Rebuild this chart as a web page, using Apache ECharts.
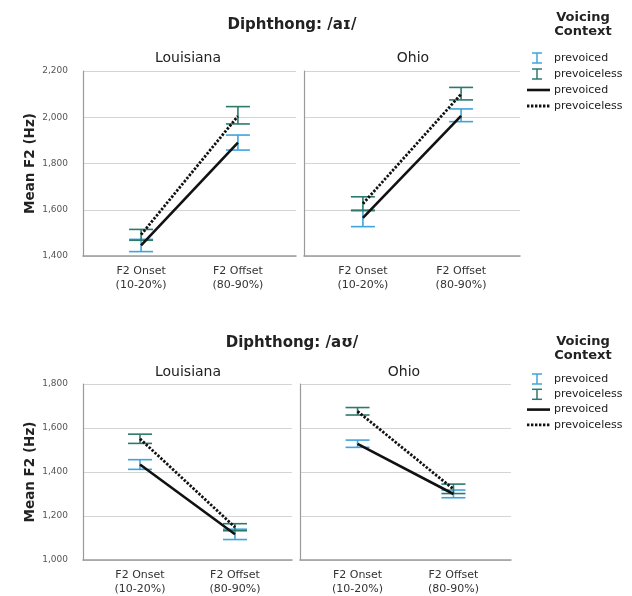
<!DOCTYPE html>
<html>
<head>
<meta charset="utf-8">
<script src="https://cdn.jsdelivr.net/npm/echarts@6/dist/echarts.min.js"></script>
<style>
  html, body { margin: 0; padding: 0; background: #fff; }
  #chart { width: 632px; height: 596px; }
</style>
</head>
<body>
<div id="chart"></div>
<script>
// x categories
const categories = ['F2 Onset\n(10-20%)', 'F2 Offset\n(80-90%)']
const aiRange = [1400, 2200]
const auRange = [1000, 1800]
const tickStep = 200

// /aɪ/ Louisiana
const laAiVoiced = [1446, 1890]
const laAiVoicedLo = [1419, 1858]
const laAiVoicedHi = [1472, 1923]
const laAiVoiceless = [1492, 2005]
const laAiVoicelessLo = [1468, 1971]
const laAiVoicelessHi = [1515, 2046]
// /aɪ/ Ohio
const ohAiVoiced = [1565, 2006]
const ohAiVoicedLo = [1527, 1981]
const ohAiVoicedHi = [1599, 2036]
const ohAiVoiceless = [1626, 2100]
const ohAiVoicelessLo = [1596, 2075]
const ohAiVoicelessHi = [1656, 2129]
// /aʊ/ Louisiana
const laAuVoiced = [1434, 1117]
const laAuVoicedLo = [1412, 1093]
const laAuVoicedHi = [1456, 1140]
const laAuVoiceless = [1551, 1149]
const laAuVoicelessLo = [1530, 1133]
const laAuVoicelessHi = [1572, 1165]
// /aʊ/ Ohio
const ohAuVoiced = [1528, 1300]
const ohAuVoicedLo = [1512, 1283]
const ohAuVoicedHi = [1545, 1318]
const ohAuVoiceless = [1676, 1322]
const ohAuVoicelessLo = [1659, 1302]
const ohAuVoicelessHi = [1693, 1345]

const FONT = 'DejaVu Sans'
const BLUE = '#3fa4dc'
const TEAL = '#2c7a6c'

const panels = [
  { grid: { left: 83, top: 71, width: 213, height: 185 }, range: aiRange, labels: true,
    v: laAiVoiced, vLo: laAiVoicedLo, vHi: laAiVoicedHi, u: laAiVoiceless, uLo: laAiVoicelessLo, uHi: laAiVoicelessHi },
  { grid: { left: 304, top: 71, width: 216, height: 185 }, range: aiRange, labels: false,
    v: ohAiVoiced, vLo: ohAiVoicedLo, vHi: ohAiVoicedHi, u: ohAiVoiceless, uLo: ohAiVoicelessLo, uHi: ohAiVoicelessHi },
  { grid: { left: 83, top: 384, width: 209, height: 180 }, range: auRange, labels: true,
    v: laAuVoiced, vLo: laAuVoicedLo, vHi: laAuVoicedHi, u: laAuVoiceless, uLo: laAuVoicelessLo, uHi: laAuVoicelessHi },
  { grid: { left: 300, top: 384, width: 211, height: 180 }, range: auRange, labels: false,
    v: ohAuVoiced, vLo: ohAuVoicedLo, vHi: ohAuVoicedHi, u: ohAuVoiceless, uLo: ohAuVoicelessLo, uHi: ohAuVoicelessHi },
]

const errorBar = (color) => (params, api) => {
  const x = api.value(0)
  const lo = api.coord([x, api.value(1)])
  const hi = api.coord([x, api.value(2)])
  const hw = 12
  const style = { stroke: color, lineWidth: 1.6 }
  return {
    type: 'group',
    children: [
      { type: 'line', shape: { x1: lo[0], y1: lo[1], x2: hi[0], y2: hi[1] }, style },
      { type: 'line', shape: { x1: lo[0] - hw, y1: lo[1], x2: lo[0] + hw, y2: lo[1] }, style },
      { type: 'line', shape: { x1: hi[0] - hw, y1: hi[1], x2: hi[0] + hw, y2: hi[1] }, style },
    ],
  }
}

const grids = panels.map((p) => p.grid)
const xAxes = panels.map((p, i) => ({
  type: 'value',
  gridIndex: i,
  min: -0.6,
  max: 1.6,
  splitLine: { show: false },
  axisTick: { show: false },
  axisLine: { onZero: false, lineStyle: { color: '#9a9a9a', width: 1.5 } },
  axisLabel: {
    color: '#333',
    fontFamily: FONT,
    fontSize: 11,
    lineHeight: 14,
    margin: 8,
    showMinLabel: false,
    showMaxLabel: false,
    formatter: (v) => (Number.isInteger(v) && categories[v] ? categories[v] : ''),
  },
}))
const yAxes = panels.map((p, i) => ({
  type: 'value',
  gridIndex: i,
  min: p.range[0],
  max: p.range[1],
  interval: tickStep,
  name: p.labels ? 'Mean F2 (Hz)' : '',
  nameLocation: 'middle',
  nameGap: 46,
  nameTextStyle: { fontFamily: FONT, fontWeight: 'bold', fontSize: 13.5, color: '#222' },
  axisLine: { show: true, onZero: false, lineStyle: { color: '#9a9a9a', width: 1.2 } },
  axisTick: { show: false },
  splitLine: { lineStyle: { color: '#d4d4d4', width: 1 } },
  axisLabel: {
    show: p.labels,
    color: '#555',
    fontFamily: FONT,
    fontSize: 9,
    margin: 15,
    formatter: (v) => v.toLocaleString('en-US'),
  },
}))

const series = []
panels.forEach((p, i) => {
  const bars = (lo, hi) => lo.map((l, k) => [k, l, hi[k]])
  const pts = (arr) => arr.map((m, k) => [k, m])
  series.push({
    type: 'custom', name: 'prevoiced bars', xAxisIndex: i, yAxisIndex: i, z: 2,
    renderItem: errorBar(BLUE), encode: { x: 0, y: [1, 2] }, data: bars(p.vLo, p.vHi),
  })
  series.push({
    type: 'custom', name: 'prevoiceless bars', xAxisIndex: i, yAxisIndex: i, z: 2,
    renderItem: errorBar(TEAL), encode: { x: 0, y: [1, 2] }, data: bars(p.uLo, p.uHi),
  })
  series.push({
    type: 'line', name: 'prevoiced', xAxisIndex: i, yAxisIndex: i, z: 3,
    symbol: 'none', lineStyle: { color: '#111', width: 2.6 }, data: pts(p.v),
  })
  series.push({
    type: 'line', name: 'prevoiceless', xAxisIndex: i, yAxisIndex: i, z: 3,
    symbol: 'none', lineStyle: { color: '#111', width: 2.8, type: [2.4, 1.6] }, data: pts(p.u),
  })
})

const text = (x, y, str, size, bold, align) => ({
  type: 'text', x, y,
  style: {
    text: str, fontFamily: FONT, fontSize: size, fontWeight: bold ? 'bold' : 'normal',
    fill: '#222', align: align || 'center', verticalAlign: 'middle',
  },
})

const legendBlock = (yTitle, yItems, gap) => {
  const ix = 537
  const tx = 554
  const ibar = (y, color) => ({
    type: 'group',
    children: [
      { type: 'line', shape: { x1: ix, y1: y - 5, x2: ix, y2: y + 5 }, style: { stroke: color, lineWidth: 1.5 } },
      { type: 'line', shape: { x1: ix - 5, y1: y - 5, x2: ix + 5, y2: y - 5 }, style: { stroke: color, lineWidth: 1.5 } },
      { type: 'line', shape: { x1: ix - 5, y1: y + 5, x2: ix + 5, y2: y + 5 }, style: { stroke: color, lineWidth: 1.5 } },
    ],
  })
  const y = (k) => yItems + k * gap
  return [
    text(583, yTitle, 'Voicing', 13, true),
    text(583, yTitle + 14, 'Context', 13, true),
    ibar(y(0), BLUE),
    text(tx, y(0), 'prevoiced', 11, false, 'left'),
    ibar(y(1), TEAL),
    text(tx, y(1), 'prevoiceless', 11, false, 'left'),
    { type: 'line', shape: { x1: 527, y1: y(2), x2: 550, y2: y(2) }, style: { stroke: '#111', lineWidth: 2.6 } },
    text(tx, y(2), 'prevoiced', 11, false, 'left'),
    { type: 'line', shape: { x1: 527, y1: y(3), x2: 550, y2: y(3) }, style: { stroke: '#111', lineWidth: 2.8, lineDash: [2.4, 1.6] } },
    text(tx, y(3), 'prevoiceless', 11, false, 'left'),
  ]
}

const chart = echarts.init(document.getElementById('chart'))
chart.setOption({
  animation: false,
  backgroundColor: '#fff',
  grid: grids,
  xAxis: xAxes,
  yAxis: yAxes,
  series,
  graphic: [
    text(292, 25, 'Diphthong: /aɪ/', 15, true),
    text(188, 58, 'Louisiana', 14, false),
    text(413, 58, 'Ohio', 14, false),
    text(292, 343, 'Diphthong: /aʊ/', 15, true),
    text(188, 372, 'Louisiana', 14, false),
    text(404, 372, 'Ohio', 14, false),
    ...legendBlock(18, 58, 16),
    ...legendBlock(342, 379, 15.3),
  ],
})
</script>
</body>
</html>
